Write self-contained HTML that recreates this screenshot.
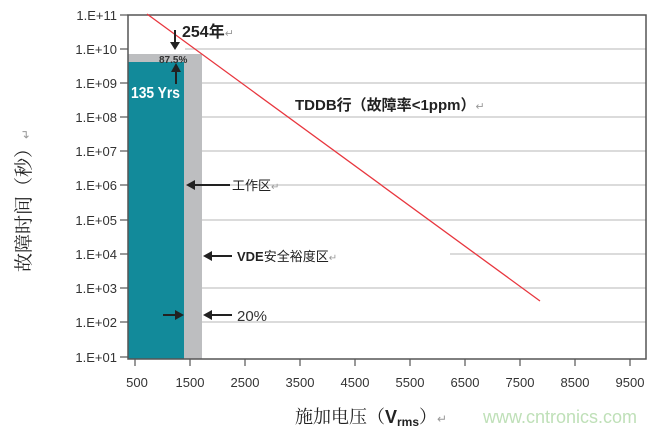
<!DOCTYPE html><html><head><meta charset="utf-8"><style>body{margin:0;background:#fff}svg{display:block}</style></head><body>
<svg width="661" height="433" xmlns="http://www.w3.org/2000/svg" font-family="Liberation Sans, Noto Sans CJK SC, sans-serif">
<rect width="661" height="433" fill="#fff"/>
<g stroke="#cfcfcf" stroke-width="1.5">
<line x1="185" y1="49" x2="646" y2="49"/><line x1="202" y1="83" x2="646" y2="83"/><line x1="202" y1="117" x2="646" y2="117"/><line x1="202" y1="151" x2="646" y2="151"/><line x1="202" y1="185" x2="646" y2="185"/><line x1="202" y1="220" x2="646" y2="220"/><line x1="450" y1="254" x2="646" y2="254"/><line x1="202" y1="288" x2="646" y2="288"/><line x1="202" y1="322" x2="646" y2="322"/>
</g>
<rect x="128" y="54" width="74" height="305" fill="#bdbec0"/>
<rect x="128" y="62" width="56" height="297" fill="#128a9a"/>
<rect x="128" y="15" width="518" height="344" fill="none" stroke="#555" stroke-width="1.5"/>
<line x1="147" y1="14" x2="540" y2="301" stroke="#e8363e" stroke-width="1.3"/>
<g stroke="#555" stroke-width="1.2">
<line x1="120" y1="15" x2="128" y2="15"/><line x1="120" y1="49" x2="128" y2="49"/><line x1="120" y1="83" x2="128" y2="83"/><line x1="120" y1="117" x2="128" y2="117"/><line x1="120" y1="151" x2="128" y2="151"/><line x1="120" y1="185" x2="128" y2="185"/><line x1="120" y1="220" x2="128" y2="220"/><line x1="120" y1="254" x2="128" y2="254"/><line x1="120" y1="288" x2="128" y2="288"/><line x1="120" y1="322" x2="128" y2="322"/><line x1="120" y1="357" x2="128" y2="357"/>
<line x1="135" y1="359" x2="135" y2="366"/><line x1="190" y1="359" x2="190" y2="366"/><line x1="245" y1="359" x2="245" y2="366"/><line x1="300" y1="359" x2="300" y2="366"/><line x1="355" y1="359" x2="355" y2="366"/><line x1="410" y1="359" x2="410" y2="366"/><line x1="465" y1="359" x2="465" y2="366"/><line x1="520" y1="359" x2="520" y2="366"/><line x1="575" y1="359" x2="575" y2="366"/><line x1="630" y1="359" x2="630" y2="366"/>
</g>
<g font-size="13" fill="#333" text-anchor="end">
<text x="117" y="20">1.E+11</text><text x="117" y="54">1.E+10</text><text x="117" y="88">1.E+09</text><text x="117" y="122">1.E+08</text><text x="117" y="156">1.E+07</text><text x="117" y="190">1.E+06</text><text x="117" y="225">1.E+05</text><text x="117" y="259">1.E+04</text><text x="117" y="293">1.E+03</text><text x="117" y="327">1.E+02</text><text x="117" y="362">1.E+01</text>
</g>
<g font-size="13" fill="#333" text-anchor="middle">
<text x="137" y="387">500</text><text x="190" y="387">1500</text><text x="245" y="387">2500</text><text x="300" y="387">3500</text><text x="355" y="387">4500</text><text x="410" y="387">5500</text><text x="465" y="387">6500</text><text x="520" y="387">7500</text><text x="575" y="387">8500</text><text x="630" y="387">9500</text>
</g>
<text x="295" y="423" font-size="18" fill="#222" font-family="Liberation Serif, Noto Serif CJK SC, serif">施加电压（<tspan font-weight="bold" font-family="Liberation Sans, sans-serif">V</tspan><tspan font-size="12" font-weight="bold" font-family="Liberation Sans, sans-serif" dy="3">rms</tspan><tspan dy="-3">）</tspan><tspan font-size="12" fill="#999">↵</tspan></text>
<text x="483" y="423" font-size="18" fill="#bfe0b8">www.cntronics.com</text>
<text transform="translate(30,272) rotate(-90)" font-size="19" fill="#222" font-family="Noto Serif CJK SC, serif">故障时间（秒）<tspan font-size="12" fill="#999">↵</tspan></text>
<g fill="#222">
<text x="182" y="37" font-size="16" font-weight="bold">254年<tspan font-size="11" fill="#999" font-weight="normal">↵</tspan></text>
<line x1="175" y1="30" x2="175" y2="44" stroke="#222" stroke-width="2"/><path d="M170,42 L180,42 L175,50Z"/>
<text x="159" y="63" font-size="10" font-weight="bold" fill="#333">87.5%</text>
<line x1="176" y1="84" x2="176" y2="70" stroke="#222" stroke-width="2"/><path d="M171,72 L181,72 L176,63Z"/>
<text x="131" y="98" font-size="16" font-weight="bold" fill="#fff" textLength="49" lengthAdjust="spacingAndGlyphs">135 Yrs</text>
<text x="295" y="110" font-size="15" font-weight="bold">TDDB<tspan font-family="Noto Sans CJK SC, sans-serif">行（故障率</tspan>&lt;1ppm<tspan font-family="Noto Sans CJK SC, sans-serif">）</tspan><tspan font-size="11" fill="#999" font-weight="normal">↵</tspan></text>
<line x1="195" y1="185" x2="230" y2="185" stroke="#222" stroke-width="2"/><path d="M186,185 L195,180 L195,190Z"/>
<text x="232" y="190" font-size="13">工作区<tspan font-size="10" fill="#999">↵</tspan></text>
<line x1="211" y1="256" x2="232" y2="256" stroke="#222" stroke-width="2"/><path d="M203,256 L212,251 L212,261Z"/>
<text x="237" y="261" font-size="13" font-weight="bold">VDE<tspan font-weight="normal">安全裕度区</tspan><tspan font-size="10" fill="#999" font-weight="normal">↵</tspan></text>
<line x1="163" y1="315" x2="176" y2="315" stroke="#222" stroke-width="2"/><path d="M184,315 L175,310 L175,320Z"/>
<line x1="211" y1="315" x2="232" y2="315" stroke="#222" stroke-width="2"/><path d="M203,315 L212,310 L212,320Z"/>
<text x="237" y="321" font-size="15" fill="#333">20%</text>
</g>
</svg></body></html>
